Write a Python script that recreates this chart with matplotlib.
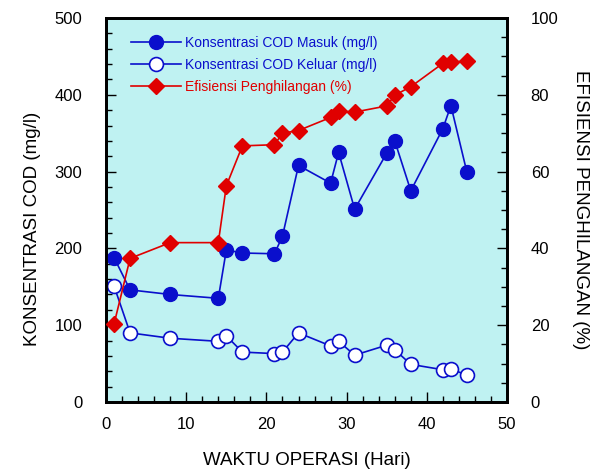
import matplotlib.pyplot as plt
from matplotlib.ticker import MultipleLocator
from matplotlib.lines import Line2D

plt.rcParams['font.family'] = ['Liberation Sans', 'DejaVu Sans']

# data
hari = [1, 3, 8, 14, 15, 17, 21, 22, 24, 28, 29, 31, 35, 36, 38, 42, 43, 45]
cod_masuk = [188, 146, 140, 135, 198, 194, 193, 216, 308, 285, 325, 251, 324, 340, 275, 356, 386, 299]
cod_keluar = [151, 90, 83, 79, 86, 65, 63, 65, 90, 73, 79, 61, 74, 68, 49, 42, 43, 35]
efisiensi = [20.3, 37.4, 41.5, 41.5, 56.3, 66.7, 67.0, 70.0, 70.7, 74.1, 75.8, 75.5, 77.1, 79.9, 82.1, 88.2, 88.5, 88.8]

biru = '#0a0fcc'
merah = '#e00000'

fig = plt.figure(figsize=(5.98, 4.70), dpi=100)
ax = fig.add_axes([0.1773, 0.1447, 0.6706, 0.817])
ax.set_facecolor('#bff2f2')
ax2 = ax.twinx()

ax.plot(hari, cod_masuk, '-o', color=biru, lw=1.2, ms=10, mfc=biru, mec=biru, zorder=3)
ax.plot(hari, cod_keluar, '-o', color=biru, lw=1.2, ms=10, mfc='white', mec=biru, mew=1.2, zorder=3)
ax2.plot(hari, efisiensi, '-D', color=merah, lw=1.2, ms=8, mfc=merah, mec=merah, zorder=3)

ax.set_xlim(0, 50)
ax.set_ylim(0, 500)
ax2.set_ylim(0, 100)

ax.xaxis.set_major_locator(MultipleLocator(10))
ax.xaxis.set_minor_locator(MultipleLocator(2))
ax.yaxis.set_major_locator(MultipleLocator(100))
ax.yaxis.set_minor_locator(MultipleLocator(20))
ax2.yaxis.set_major_locator(MultipleLocator(20))
ax2.yaxis.set_minor_locator(MultipleLocator(5))

for a in (ax, ax2):
    a.tick_params(which='major', direction='in', length=7, width=1, labelsize=12, pad=17)
    a.tick_params(which='minor', direction='in', length=4, width=1)
    for s in a.spines.values():
        s.set_linewidth(2)
ax.tick_params(axis='x', which='both', top=False, pad=11)

ax.set_xlabel('WAKTU OPERASI (Hari)', fontsize=13.5, labelpad=14)
ax.set_ylabel('KONSENTRASI COD (mg/l)', fontsize=13.5, labelpad=10)
ax.yaxis.label.set_y(0.45)
ax2.set_ylabel('EFISIENSI PENGHILANGAN (%)', fontsize=13.5, rotation=-90, labelpad=22)

# legenda
h = [Line2D([], [], color=biru, marker='o', ms=10, lw=1.2, mfc=biru, mec=biru),
     Line2D([], [], color=biru, marker='o', ms=10, lw=1.2, mfc='white', mec=biru, mew=1.2),
     Line2D([], [], color=merah, marker='D', ms=8, lw=1.2, mfc=merah, mec=merah)]
lbl = ['Konsentrasi COD Masuk (mg/l)', 'Konsentrasi COD Keluar (mg/l)', 'Efisiensi Penghilangan (%)']
leg = ax2.legend(h, lbl, loc='upper left', bbox_to_anchor=(0.03, 0.985), frameon=False,
                 fontsize=10, handlelength=3.6, handletextpad=0.3, labelspacing=0.55)
for t, c in zip(leg.get_texts(), [biru, biru, merah]):
    t.set_color(c)

fig.savefig('out.png', dpi=100)
